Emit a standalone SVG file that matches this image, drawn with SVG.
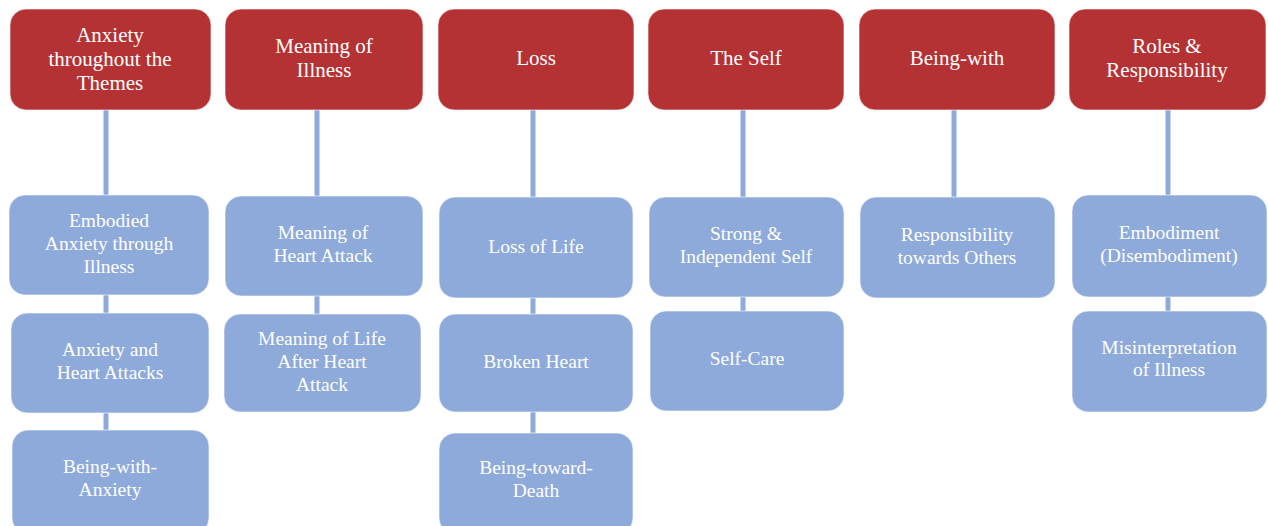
<svg xmlns="http://www.w3.org/2000/svg" width="1268" height="526" viewBox="0 0 1268 526">
<style>
.h{fill:#B53234;stroke:#fff;stroke-opacity:.6;stroke-width:1}
.c{fill:#8EAADB;stroke:#fff;stroke-opacity:.6;stroke-width:1}
.ht{font-family:"Liberation Serif","Times New Roman",serif;font-size:21px;fill:#fff;text-anchor:middle}
.ct{font-family:"Liberation Serif","Times New Roman",serif;font-size:19.5px;fill:#fff;text-anchor:middle}
.l{stroke:#8EAADB;stroke-width:5;fill:none}
</style>
<rect width="1268" height="526" fill="#fff"/>
<g id="connectors">
<line class="l" x1="106" y1="109" x2="106" y2="432"/>
<line class="l" x1="317" y1="109" x2="317" y2="316"/>
<line class="l" x1="533" y1="109" x2="533" y2="435"/>
<line class="l" x1="743" y1="109" x2="743" y2="313"/>
<line class="l" x1="954" y1="109" x2="954" y2="199"/>
<line class="l" x1="1168" y1="109" x2="1168" y2="313"/>
</g>
<g id="h1"><rect class="h" x="10" y="9" width="201" height="101" rx="16"/><text class="ht" x="110" y="42">Anxiety</text><text class="ht" x="110" y="66">throughout the</text><text class="ht" x="110" y="90">Themes</text></g>
<g id="h2"><rect class="h" x="225" y="9" width="198" height="101" rx="16"/><text class="ht" x="324" y="53">Meaning of</text><text class="ht" x="324" y="77">Illness</text></g>
<g id="h3"><rect class="h" x="438" y="9" width="196" height="101" rx="16"/><text class="ht" x="536" y="65">Loss</text></g>
<g id="h4"><rect class="h" x="648" y="9" width="196" height="101" rx="16"/><text class="ht" x="746" y="65">The Self</text></g>
<g id="h5"><rect class="h" x="859" y="9" width="196" height="101" rx="16"/><text class="ht" x="957" y="65">Being-with</text></g>
<g id="h6"><rect class="h" x="1069" y="9" width="197" height="101" rx="16"/><text class="ht" x="1167" y="53">Roles &amp;</text><text class="ht" x="1167" y="77">Responsibility</text></g>

<g id="c1a"><rect class="c" x="9" y="195" width="200" height="100" rx="16"/><text class="ct" x="109" y="227">Embodied</text><text class="ct" x="109" y="250">Anxiety through</text><text class="ct" x="109" y="273">Illness</text></g>
<g id="c1b"><rect class="c" x="11" y="313" width="198" height="100" rx="16"/><text class="ct" x="110" y="356">Anxiety and</text><text class="ct" x="110" y="379">Heart Attacks</text></g>
<g id="c1c"><rect class="c" x="12" y="430" width="197" height="104" rx="16"/><text class="ct" x="110" y="473">Being-with-</text><text class="ct" x="110" y="496">Anxiety</text></g>

<g id="c2a"><rect class="c" x="225" y="196" width="198" height="100" rx="16"/><text class="ct" x="323" y="239">Meaning of</text><text class="ct" x="323" y="262">Heart Attack</text></g>
<g id="c2b"><rect class="c" x="224" y="314" width="197" height="98" rx="16"/><text class="ct" x="322" y="345">Meaning of Life</text><text class="ct" x="322" y="368">After Heart</text><text class="ct" x="322" y="391">Attack</text></g>

<g id="c3a"><rect class="c" x="439" y="197" width="194" height="101" rx="16"/><text class="ct" x="536" y="253">Loss of Life</text></g>
<g id="c3b"><rect class="c" x="439" y="314" width="194" height="98" rx="16"/><text class="ct" x="536" y="368">Broken Heart</text></g>
<g id="c3c"><rect class="c" x="439" y="433" width="194" height="101" rx="16"/><text class="ct" x="536" y="474">Being-toward-</text><text class="ct" x="536" y="497">Death</text></g>

<g id="c4a"><rect class="c" x="649" y="197" width="195" height="100" rx="16"/><text class="ct" x="746" y="240">Strong &amp;</text><text class="ct" x="746" y="263">Independent Self</text></g>
<g id="c4b"><rect class="c" x="650" y="311" width="194" height="100" rx="16"/><text class="ct" x="747" y="365">Self-Care</text></g>

<g id="c5a"><rect class="c" x="860" y="197" width="195" height="101" rx="16"/><text class="ct" x="957" y="241">Responsibility</text><text class="ct" x="957" y="264">towards Others</text></g>

<g id="c6a"><rect class="c" x="1072" y="195" width="195" height="102" rx="16"/><text class="ct" x="1169" y="239">Embodiment</text><text class="ct" x="1169" y="262">(Disembodiment)</text></g>
<g id="c6b"><rect class="c" x="1072" y="311" width="195" height="101" rx="16"/><text class="ct" x="1169" y="354">Misinterpretation</text><text class="ct" x="1169" y="376">of Illness</text></g>
</svg>
